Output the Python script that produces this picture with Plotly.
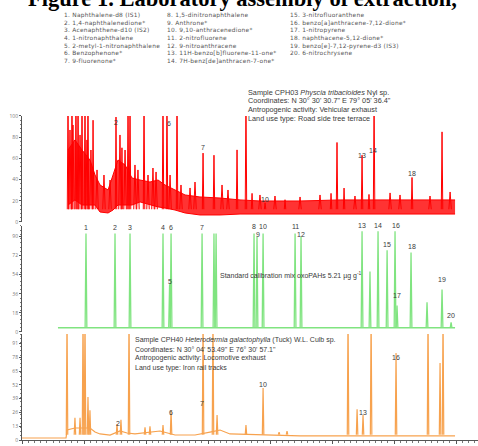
import plotly.graph_objects as go

# ---------------- text content ----------------
TITLE = "Figure 1. Laboratory assembly of extraction,"
legend_col1 = ["1. Naphthalene-d8 (IS1)", "2. 1,4-naphthalenedione*", "3. Acenaphthene-d10 (IS2)",
               "4. 1-nitronaphthalene", "5. 2-metyl-1-nitronaphthalene", "6. Benzophenone*", "7. 9-fluorenone*"]
legend_col2 = ["8. 1,5-dinitronaphthalene", "9. Anthrone*", "10. 9,10-anthracenedione*", "11. 2-nitrofluorene",
               "12. 9-nitroanthracene", "13. 11H-benzo[b]fluorene-11-one*", "14. 7H-benz[de]anthracen-7-one*"]
legend_col3 = ["15. 3-nitrofluoranthene", "16. benzo[a]anthracene-7,12-dione*", "17. 1-nitropyrene",
               "18. naphthacene-5,12-dione*", "19. benzo[e]-7,12-pyrene-d3 (IS3)", "20. 6-nitrochrysene"]
red_info = ["Sample CPH03 <i>Physcia tribacioides</i> Nyl sp.",
            "Coordinates: N 30° 30' 30.7\" E 79° 05' 36.4\"",
            "Antropogenic activity: Vehicular exhaust",
            "Land use type: Road side tree terrace"]
green_info = "Standard calibration mix oxoPAHs 5.21 µg g<sup>-1</sup>"
orange_info = ["Sample CPH40 <i>Heterodermia galactophylla</i> (Tuck) W.L. Culb sp.",
               "Coordinates: N 30° 04' 53.49\" E 76° 30' 57.1\"",
               "Antropogenic activity: Locomotive exhaust",
               "Land use type: Iron rail tracks"]

# ---------------- red chromatogram (sample CPH03) ----------------
red_band_t = [3.71, 4.27, 4.84, 5.48, 5.89, 6.29, 6.94, 7.34, 7.74, 8.31, 8.87, 9.52, 10.32, 10.97,
              11.53, 12.34, 13.15, 14.35, 15.97, 17.58, 19.19, 22.42, 25.65, 28.87, 32.10, 34.92]
red_band_low = [16.0, 20.8, 16.0, 16.0, 16.0, 9.4, 8.5, 11.3, 16.0, 16.0, 16.0, 18.9, 16.0, 14.2,
                13.2, 11.3, 8.5, 6.6, 6.6, 7.5, 7.5, 7.5, 7.5, 7.5, 7.5, 7.5]
red_band_high = [67.9, 77.4, 67.9, 58.5, 44.3, 34.9, 30.2, 44.3, 58.5, 53.8, 41.5, 39.6, 37.7, 39.6,
                 34.9, 30.2, 25.5, 23.6, 22.6, 20.8, 19.8, 19.8, 20.8, 20.8, 20.8, 20.8]
red_noise_t = [3.87, 4.11, 4.68, 5.24, 5.56, 6.05, 6.61, 7.10, 7.90, 8.31, 9.11, 9.35, 10.16, 10.56,
               10.81, 11.94, 12.82, 13.55, 13.95, 16.13, 16.61, 19.19, 20.40, 22.42, 24.03, 26.85,
               29.68, 30.48, 32.90, 34.52]
red_noise_v = [86.8, 91.5, 82.1, 77.4, 67.9, 49.1, 44.3, 39.6, 82.1, 67.9, 53.8, 49.1, 44.3, 50.9,
               47.2, 44.3, 34.9, 32.1, 37.7, 34.9, 30.2, 25.5, 24.5, 23.6, 25.5, 24.5, 27.4, 25.5,
               24.5, 28.3]
red_peak_t = [3.71, 4.03, 4.35, 4.52, 4.84, 5.08, 5.32, 5.73, 7.58, 8.06, 8.55, 8.71, 9.84, 11.37,
              11.69, 12.50, 14.60, 15.48, 17.34, 18.06, 18.55, 19.60, 21.21, 24.92, 25.40, 25.97,
              27.42, 27.98, 28.39, 31.45, 33.87]
red_peak_v = [120, 120, 120, 120, 120, 120, 120, 96, 99, 70, 120, 120, 120, 120,
              120, 120, 65, 63, 68, 120, 27, 18, 21, 27, 75, 32,
              63, 26, 120, 42, 85]
red_labels = ["2", "6", "7", "10", "13", "14", "18"]
red_label_t = [7.58, 11.85, 14.60, 19.60, 27.42, 28.31, 31.45]
red_label_v = [93.4, 92.5, 69.8, 20.8, 62.3, 67.9, 45.3]

# ---------------- green chromatogram (standard mix) ----------------
green_base_t = [2.90, 34.92]
green_base_v = [4.0, 4.0]
green_peak_t = [5.16, 7.50, 8.71, 11.37, 11.90, 12.02, 14.52, 15.48, 15.65, 18.71, 18.95, 19.44,
                22.02, 22.50, 27.42, 28.06, 28.71, 29.44, 30.08, 30.24, 31.37, 32.66, 33.87, 34.60]
green_peak_v = [93, 93, 93, 93, 45, 93, 93, 93, 93, 93, 90, 93,
                93, 90, 95, 57, 95, 77, 95, 25, 75, 28, 40, 9]
green_labels = ["1", "2", "3", "4", "6", "5", "7", "8", "9", "10", "11", "12", "13", "14", "16",
                "15", "17", "18", "19", "20"]
green_label_t = [5.16, 7.50, 8.71, 11.37, 12.02, 11.94, 14.52, 18.71, 19.03, 19.44, 22.02, 22.50,
                 27.42, 28.71, 30.16, 29.44, 30.24, 31.45, 33.87, 34.60]
green_label_v = [98.1, 98.1, 98.1, 98.1, 98.1, 47.2, 98.1, 99.1, 91.5, 99.1, 99.1, 91.5,
                 100, 100, 100, 83.0, 34.0, 80.2, 49.1, 15.1]

# ---------------- orange chromatogram (sample CPH40) ----------------
orange_base_t = [0.0, 3.06, 3.55, 3.63, 4.27, 5.48, 5.89, 6.29, 7.10, 7.90, 8.47, 9.11, 11.13,
                 12.34, 13.95, 15.16, 15.97, 16.77, 19.19, 22.42, 25.65, 28.87, 32.10, 34.92]
orange_base_v = [1.9, 1.9, 1.9, 9.4, 11.3, 11.3, 7.5, 5.7, 4.7, 8.5, 6.6, 5.7, 8.5,
                 4.7, 4.7, 7.5, 9.4, 5.7, 4.7, 3.8, 3.8, 3.8, 3.8, 3.8]
orange_peak_t = [3.63, 4.27, 4.68, 4.92, 5.08, 5.32, 5.48, 7.66, 7.98, 8.63, 9.92, 10.32, 11.37,
                 12.02, 14.60, 15.40, 15.73, 18.06, 19.44, 20.73, 21.37, 26.29, 27.02, 27.50,
                 28.15, 30.16, 32.74, 33.71, 33.95]
orange_peak_v = [120, 21, 21, 120, 120, 40.5, 28, 15, 19, 120, 12, 13, 14,
                 28, 120, 120, 23.6, 14, 49, 7.5, 8.5, 120, 29, 23.6,
                 120, 82, 120, 72.6, 120]
orange_labels = ["2", "6", "7", "10", "13", "16"]
orange_label_t = [7.74, 12.02, 14.52, 19.44, 27.50, 30.16]
orange_label_v = [16.0, 26.4, 34.9, 51.9, 26.4, 77.4]

RED = "#ff0000"
GREEN = "#80e480"
ORANGE = "#f7a24e"
TXT = "#3a3a3a"
SANS = "Liberation Sans Narrow, Liberation Sans, Arial, sans-serif"
SANS_WIDE = "DejaVu Sans, Verdana, sans-serif"


def spikes(ts, vs, base, hw):
    xs, ys = [], []
    for t, v in zip(ts, vs):
        xs += [t - hw, t, t + hw, None]
        ys += [base, v, base, None]
    return xs, ys


fig = go.Figure()

# red band (noisy baseline envelope)
fig.add_trace(go.Scatter(x=red_band_t, y=red_band_low, mode="lines", line=dict(color=RED, width=1),
                         yaxis="y", hoverinfo="skip"))
fig.add_trace(go.Scatter(x=red_band_t, y=red_band_high, mode="lines", line=dict(color=RED, width=1),
                         fill="tonexty", fillcolor="rgba(255,0,0,0.8)", yaxis="y", hoverinfo="skip"))
nx, ny = spikes(red_noise_t, red_noise_v, 12, 0.1)
fig.add_trace(go.Scatter(x=nx, y=ny, mode="lines", line=dict(color=RED, width=1), yaxis="y"))
px_, py_ = spikes(red_peak_t, red_peak_v, 12, 0.06)
fig.add_trace(go.Scatter(x=px_, y=py_, mode="lines", line=dict(color=RED, width=1), yaxis="y"))

# green
fig.add_trace(go.Scatter(x=green_base_t, y=green_base_v, mode="lines", line=dict(color=GREEN, width=1.5),
                         yaxis="y2"))
gx, gy = spikes(green_peak_t, green_peak_v, 4, 0.07)
fig.add_trace(go.Scatter(x=gx, y=gy, mode="lines", line=dict(color=GREEN, width=1.3), yaxis="y2"))

# orange
fig.add_trace(go.Scatter(x=orange_base_t, y=orange_base_v, mode="lines", line=dict(color=ORANGE, width=1.2),
                         yaxis="y3"))
ox, oy = spikes(orange_peak_t, orange_peak_v, 5, 0.06)
fig.add_trace(go.Scatter(x=ox, y=oy, mode="lines", line=dict(color=ORANGE, width=1.2), yaxis="y3"))

ann = []
# title (top partly cut by the page edge, as in the reference)
ann.append(dict(text="<b>" + TITLE + "</b>", x=(26 - 22) / 456, y=(440 - 12.5) / 440, xref="paper",
                yref="paper", xanchor="left", yanchor="bottom", showarrow=False,
                font=dict(family="Liberation Serif, Times New Roman, serif", size=22.5, color="#000")))
# legend text: one multi-line block per column
for colx, items in ((62, legend_col1), (165, legend_col2), (288, legend_col3)):
    body = "<br>".join('<span style="letter-spacing:0.25px">' + s + "</span>" for s in items)
    ann.append(dict(text=body, x=(colx - 22) / 456, y=(440 - 10.5) / 440, xref="paper",
                    yref="paper", xanchor="left", yanchor="top", align="left", showarrow=False,
                    font=dict(family=SANS_WIDE, size=5.9, color="#555")))
# sample info
for i, s in enumerate(red_info):
    ann.append(dict(text=s, x=(246 - 22) / 456, y=(440 - [92, 101, 109.5, 118][i]) / 440, xref="paper",
                    yref="paper", xanchor="left", yanchor="middle", showarrow=False,
                    font=dict(family=SANS, size=7.3, color=TXT)))
ann.append(dict(text=green_info, x=(218 - 22) / 456, y=(440 - 276) / 440, xref="paper", yref="paper",
                xanchor="left", yanchor="middle", showarrow=False, font=dict(family=SANS, size=7, color=TXT)))
for i, s in enumerate(orange_info):
    ann.append(dict(text=s, x=(133 - 22) / 456, y=(440 - [340, 349, 358, 367.5][i]) / 440, xref="paper",
                    yref="paper", xanchor="left", yanchor="middle", showarrow=False,
                    font=dict(family=SANS, size=7, color=TXT)))
# peak labels
for labs, ts, vs, yr in ((red_labels, red_label_t, red_label_v, "y"),
                         (green_labels, green_label_t, green_label_v, "y2"),
                         (orange_labels, orange_label_t, orange_label_v, "y3")):
    for s, t, v in zip(labs, ts, vs):
        ann.append(dict(text=s, x=t, y=v, xref="x", yref=yr, showarrow=False, xanchor="center",
                        yanchor="middle", font=dict(family=SANS, size=7, color=TXT)))

yax_common = dict(range=[0, 100], showline=True, linecolor="#555", linewidth=1, ticks="outside",
                  ticklen=2, tickcolor="#555", tickfont=dict(size=5, color="#777"), showgrid=False,
                  zeroline=False, automargin=False, anchor="x",
                  minor=dict(ticks="outside", ticklen=1, tickcolor="#777", dtick=4))

fig.update_layout(
    template="none",
    width=478, height=446,
    margin=dict(l=22, r=0, t=0, b=6),
    paper_bgcolor="white", plot_bgcolor="white",
    showlegend=False,
    xaxis=dict(range=[0, 36.77], showline=True, linecolor="#555", linewidth=1, ticks="outside", ticklen=3,
               tickcolor="#555", dtick=5, tick0=0, showticklabels=False, showgrid=False, zeroline=False,
               anchor="y3", automargin=False,
               minor=dict(ticks="outside", ticklen=2, tickcolor="#777", dtick=0.5)),
    yaxis=dict(domain=[0.4955, 0.7364], dtick=20, **yax_common),
    yaxis2=dict(domain=[0.2455, 0.4864], dtick=18, **yax_common),
    yaxis3=dict(domain=[0.0, 0.2409], dtick=13, **yax_common),
    annotations=ann,
)

fig.write_html("out.html", config={"displayModeBar": False},
               post_script="document.body.style.margin='0';")
